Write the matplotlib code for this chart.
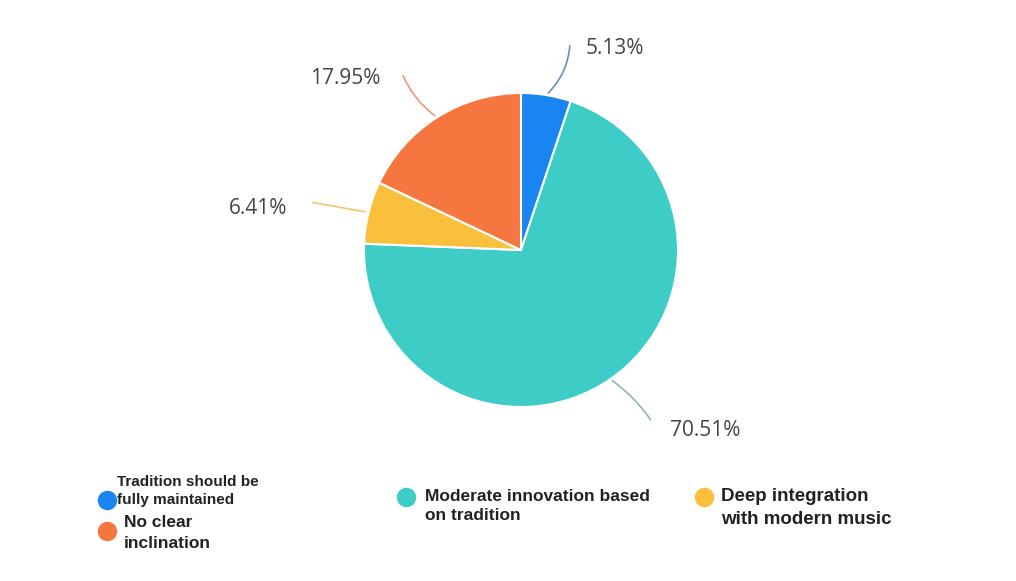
import numpy as np
import matplotlib
matplotlib.use('Agg')
import matplotlib.pyplot as plt

# data, clockwise from 12 o'clock
labels = ['Tradition should be fully maintained', 'Moderate innovation based on tradition',
          'Deep integration with modern music', 'No clear inclination']
values = [5.13, 70.51, 6.41, 17.95]
colors = ['#1a85f0', '#3dcdc6', '#f8c03c', '#f6763f']
pct_text = ['5.13%', '70.51%', '6.41%', '17.95%']

W, H = 1016, 581
fig = plt.figure(figsize=(W / 100, H / 100), dpi=100)
ax = fig.add_axes([0, 0, 1, 1])

cx, cy, r = 521, H - 250, 157
wedges, _ = ax.pie(values, colors=colors, startangle=90, counterclock=False,
                   center=(cx, cy), radius=r, frame=True,
                   wedgeprops=dict(edgecolor='white', linewidth=1.5))
ax.set_xlim(0, W)
ax.set_ylim(0, H)
ax.set_aspect('equal')
ax.axis('off')

# label text positions (pixel coords, image y)
text_pos = [(615, 48), (705, 430), (258, 208), (345, 78)]
leader_end = [(570, 43), (652, 422), (310, 202), (402, 73)]
rads = [-0.2, 0.1, 0.0, 0.15]
line_cols = ['#6b8fb0', '#8fb5b3', '#f2c66a', '#e89a78']
for i, w in enumerate(wedges):
    ang = np.deg2rad((w.theta1 + w.theta2) / 2)
    px, py = cx + r * np.cos(ang), cy + r * np.sin(ang)
    ex, ey = leader_end[i]
    ax.annotate('', xy=(px, py), xytext=(ex, H - ey),
                arrowprops=dict(arrowstyle='-', color=line_cols[i], lw=1.2,
                                connectionstyle='arc3,rad=%s' % rads[i]))
    tx, ty = text_pos[i]
    ax.text(tx, H - ty, pct_text[i], ha='center', va='center', fontsize=15,
            family='Open Sans', color='#454545')

# legend
fam = ['Liberation Sans', 'DejaVu Sans']
leg = [
    (107, 500, colors[0], 117, 491, 'Tradition should be\nfully maintained', 11, 1.35),
    (107, 531, colors[3], 124, 533, 'No clear\ninclination', 12.5, 1.55),
    (406, 497, colors[1], 425, 506, 'Moderate innovation based\non tradition', 12.5, 1.4),
    (704, 497, colors[2], 721, 508, 'Deep integration\nwith modern music', 13.5, 1.4),
]
for mx, my, c, tx, ty, s, fs, ls in leg:
    ax.plot(mx, H - my, 'o', color=c, markersize=13)
    ax.text(tx, H - ty, s, ha='left', va='center', fontsize=fs, family=fam,
            fontweight='bold', color='#222222', linespacing=ls)

fig.savefig('out.png', dpi=100)
